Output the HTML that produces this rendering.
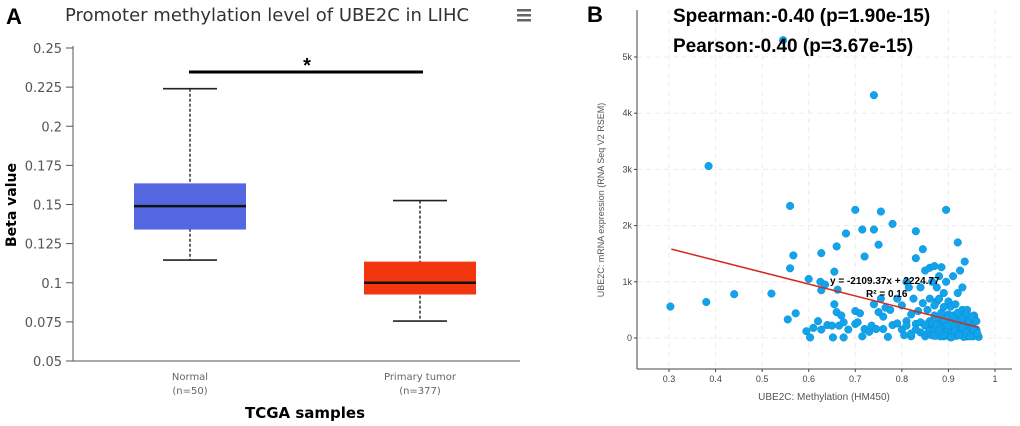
<!DOCTYPE html>
<html><head><meta charset="utf-8"><style>
body{margin:0;background:#fff;width:1020px;height:426px;overflow:hidden;font-family:"Liberation Sans",sans-serif}
svg{position:absolute;left:0;top:0}
</style></head><body>
<svg id="c" width="1020" height="426" xmlns="http://www.w3.org/2000/svg">
<text x="6" y="24" font-size="22" font-weight="bold">A</text>
<text x="267" y="21" font-size="18" fill="#333" text-anchor="middle" font-family="DejaVu Sans, sans-serif">Promoter methylation level of UBE2C in LIHC</text>
<g fill="#666"><rect x="517" y="9" width="14" height="2.5"/><rect x="517" y="14" width="14" height="2.5"/><rect x="517" y="19" width="14" height="2.5"/></g>
<g id="ga"></g>
<text x="16" y="205" font-size="14" font-weight="bold" font-family="DejaVu Sans, sans-serif" transform="rotate(-90 16 205)" text-anchor="middle">Beta value</text>
<text x="305" y="418" font-size="15" font-weight="bold" font-family="DejaVu Sans, sans-serif" text-anchor="middle">TCGA samples</text>
<text x="587" y="22" font-size="22" font-weight="bold">B</text>
<g id="gb"></g>
<text x="673" y="22" font-size="19" font-weight="bold">Spearman:-0.40 (p=1.90e-15)</text>
<text x="673" y="52" font-size="19" font-weight="bold">Pearson:-0.40 (p=3.67e-15)</text>
<text x="604" y="200" font-size="9" fill="#555" transform="rotate(-90 604 200)" text-anchor="middle">UBE2C: mRNA expression (RNA Seq V2 RSEM)</text>
<text x="824" y="400" font-size="10" fill="#555" text-anchor="middle">UBE2C: Methylation (HM450)</text>
</svg>
<script>
const groupsA=["Normal","Primary tumor"];
const countsA=["(n=50)","(n=377)"];
const minA=[0.1145,0.0755];
const q1A=[0.134,0.0925];
const medA=[0.149,0.100];
const q3A=[0.1635,0.1135];
const maxA=[0.224,0.1525];
const ticksA=[0.05,0.075,0.1,0.125,0.15,0.175,0.2,0.225,0.25];
const tickLabA=["0.05","0.075","0.1","0.125","0.15","0.175","0.2","0.225","0.25"];
const colorsA=["#5567e0","#f2360f"];
const xsB=[0.303,0.38,0.385,0.44,0.52,0.545,0.555,0.56,0.56,0.567,0.572,0.595,0.6,0.603,0.61,0.62,0.625,0.627,0.627,0.627,0.635,0.64,0.65,0.652,0.655,0.655,0.66,0.66,0.662,0.665,0.67,0.675,0.675,0.68,0.685,0.70,0.70,0.70,0.705,0.71,0.715,0.715,0.72,0.72,0.73,0.735,0.74,0.74,0.74,0.745,0.75,0.75,0.755,0.755,0.76,0.76,0.765,0.77,0.775,0.78,0.78,0.79,0.79,0.80,0.80,0.805,0.81,0.81,0.815,0.82,0.82,0.825,0.83,0.83,0.83,0.835,0.84,0.84,0.845,0.845,0.85,0.85,0.85,0.855,0.855,0.86,0.86,0.86,0.865,0.865,0.87,0.87,0.87,0.875,0.875,0.875,0.88,0.88,0.88,0.88,0.885,0.885,0.885,0.89,0.89,0.89,0.89,0.895,0.895,0.895,0.9,0.9,0.9,0.9,0.9,0.905,0.905,0.905,0.91,0.91,0.91,0.91,0.915,0.915,0.915,0.92,0.92,0.92,0.92,0.92,0.925,0.925,0.925,0.93,0.93,0.93,0.93,0.935,0.935,0.935,0.94,0.94,0.94,0.945,0.945,0.95,0.95,0.955,0.955,0.96,0.96,0.965,0.86,0.87,0.88,0.89,0.9,0.91,0.92,0.93,0.94,0.95,
0.862,0.868,0.873,0.878,0.883,0.888,0.893,0.898,0.903,0.908,0.913,0.918,0.923,0.928,0.933,0.938,0.943,0.948,0.953,0.958,0.864,0.871,0.877,0.884,0.891,0.897,0.904,0.911,0.917,0.924,0.931,0.937,0.944,0.951,0.957,0.866,0.874,0.882,0.89,0.898,0.906,0.914,0.922,0.93,0.938,0.946,0.954,0.962,0.87,0.88,0.89,0.9,0.91,0.92,0.93,0.94,0.95,0.96,0.84,0.85,0.83,0.82,0.81];
const ysB=[560,640,3060,780,790,5300,330,2350,1240,1470,440,120,1050,10,180,300,1000,150,850,1510,950,230,220,10,1180,600,1630,460,860,220,400,10,280,1860,150,2280,250,480,280,440,1930,30,160,1450,110,220,4320,1930,600,160,1660,460,2250,700,160,380,540,20,500,2030,230,260,700,150,580,50,1000,300,900,30,420,700,250,1420,1900,480,100,900,1580,620,1200,220,30,500,80,1250,700,300,150,1000,1280,50,400,650,200,900,1100,320,60,700,1260,120,450,800,30,280,550,1000,2280,150,380,100,650,250,420,50,560,200,80,350,1100,30,280,600,150,430,1700,50,250,800,1200,350,100,500,60,300,900,180,420,1360,30,200,500,100,300,70,200,400,50,150,100,20,130,580,150,90,220,60,280,40,180,120,250,70,
40,110,30,180,60,140,20,90,200,40,150,70,20,110,60,170,30,90,50,120,250,200,300,260,330,220,310,280,240,350,290,210,330,260,230,160,60,230,10,120,50,190,100,30,150,80,40,130,330,380,400,450,360,420,380,300,280,240,150,80,220,160,100];
const xTicksB=[0.3,0.4,0.5,0.6,0.7,0.8,0.9,1];
const xTickLabB=["0.3","0.4","0.5","0.6","0.7","0.8","0.9","1"];
const yTicksB=[0,1000,2000,3000,4000,5000];
const yTickLabB=["0","1k","2k","3k","4k","5k"];
const slopeB=-2109.37, interceptB=2224.77, fitRangeB=[0.305,0.965];

const NS="http://www.w3.org/2000/svg";
function mk(parent,tag,attrs){const e=document.createElementNS(NS,tag);for(const k in attrs)e.setAttribute(k,attrs[k]);parent.appendChild(e);return e;}
// Panel A
const ga=document.getElementById('ga');
const yA=v=>361-(v-0.05)/0.2*313;
const xA=i=>190+i*230;
let e=mk(ga,'line',{x1:73,y1:46,x2:73,y2:361,stroke:'#555','stroke-width':1});

e=mk(ga,'line',{x1:73,y1:361,x2:520,y2:361,stroke:'#555','stroke-width':1});

ticksA.forEach((t,i)=>{
 let l=mk(ga,'line',{x1:66,x2:73,y1:yA(t),y2:yA(t),stroke:'#555'});
 
 let tx=mk(ga,'text',{x:62,y:yA(t)+5,'font-size':13,fill:'#555','text-anchor':'end','font-family':'DejaVu Sans, sans-serif'});
 tx.textContent=tickLabA[i];
 
});
groupsA.forEach((g,i)=>{
 const cx=xA(i);
 let w=mk(ga,'line',{x1:cx,x2:cx,y1:yA(maxA[i]),y2:yA(minA[i]),stroke:'#222','stroke-dasharray':'3,2','stroke-width':1.4});
 
 [maxA[i],minA[i]].forEach(v=>{let c=mk(ga,'line',{x1:cx-27,x2:cx+27,y1:yA(v),y2:yA(v),stroke:'#222','stroke-width':1.6});
 });
 let b=mk(ga,'rect',{x:cx-56,y:yA(q3A[i]),width:112,height:yA(q1A[i])-yA(q3A[i]),fill:colorsA[i]});
 
 let m=mk(ga,'line',{x1:cx-56,x2:cx+56,y1:yA(medA[i]),y2:yA(medA[i]),stroke:'#111','stroke-width':2.5});
 
 let t1=mk(ga,'text',{x:cx,y:380,'font-size':10,fill:'#666','text-anchor':'middle','font-family':'DejaVu Sans, sans-serif'});t1.textContent=g;
 
 let t2=mk(ga,'text',{x:cx,y:394,'font-size':10,fill:'#666','text-anchor':'middle','font-family':'DejaVu Sans, sans-serif'});t2.textContent=countsA[i];
 
});
e=mk(ga,'line',{x1:189,x2:423,y1:72,y2:72,stroke:'#000','stroke-width':3});

e=mk(ga,'text',{x:307,y:72,'font-size':20,'font-weight':'bold','text-anchor':'middle'});e.textContent='*';

// Panel B
const gb=document.getElementById('gb');
const xB=v=>669+(v-0.3)/0.7*326;
const yB=v=>338-v/1000*56.2;
yTicksB.forEach((t,i)=>{
 let g=mk(gb,'line',{x1:637,x2:1012,y1:yB(t),y2:yB(t),stroke:'#ececec','stroke-dasharray':'5,4'});
 
 let l=mk(gb,'line',{x1:634,x2:637,y1:yB(t),y2:yB(t),stroke:'#444'});
 
 let tx=mk(gb,'text',{x:632,y:yB(t)+3,'font-size':9,fill:'#444','text-anchor':'end'});tx.textContent=yTickLabB[i];
 
});
xTicksB.forEach((t,i)=>{
 let g=mk(gb,'line',{x1:xB(t),x2:xB(t),y1:10,y2:369,stroke:'#ececec','stroke-dasharray':'5,4'});
 
 let l=mk(gb,'line',{x1:xB(t),x2:xB(t),y1:369,y2:372,stroke:'#444'});
 
 let tx=mk(gb,'text',{x:xB(t),y:382,'font-size':9,fill:'#444','text-anchor':'middle'});tx.textContent=xTickLabB[i];
 
});
e=mk(gb,'line',{x1:637,x2:637,y1:10,y2:369,stroke:'#444'});

e=mk(gb,'line',{x1:637,x2:1012,y1:369,y2:369,stroke:'#444'});

xsB.forEach((x,i)=>{
 let c=mk(gb,'circle',{cx:xB(x),cy:yB(ysB[i]),r:3.8,fill:'#11a3ec',stroke:'#0d8fd0','stroke-width':0.5});
 
});
e=mk(gb,'line',{x1:xB(fitRangeB[0]),y1:yB(slopeB*fitRangeB[0]+interceptB),x2:xB(fitRangeB[1]),y2:yB(slopeB*fitRangeB[1]+interceptB),stroke:'#d42a1e','stroke-width':1.5});

e=mk(gb,'text',{x:830,y:284,'font-size':10,'font-weight':'bold'});e.textContent='y = -2109.37x + 2224.77';

e=mk(gb,'text',{x:866,y:297,'font-size':10,'font-weight':'bold'});e.textContent='R² = 0.16';

</script>
</body></html>
